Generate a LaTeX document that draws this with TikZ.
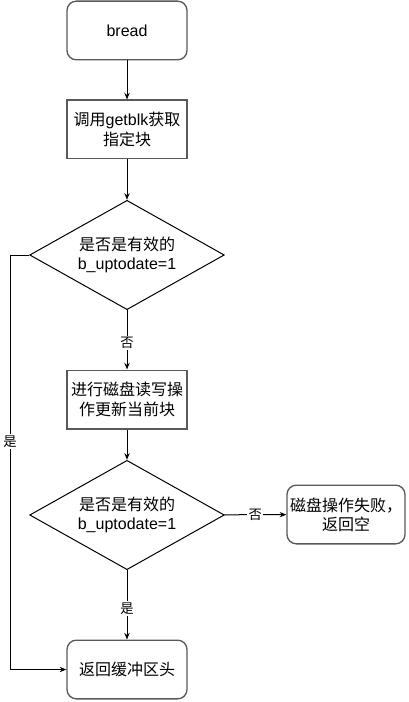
\documentclass[tikz,border=0pt]{standalone}
\usepackage{fontspec}
\setmainfont{Liberation Sans}
\newfontfamily\cjk{Noto Sans CJK SC}
\usetikzlibrary{shapes.geometric,arrows.meta}

\tikzset{every picture/.style={line width=0.75pt}}
\tikzset{
  procbox/.style={draw=black!65,line width=1pt,minimum width=90pt,minimum height=44pt,inner xsep=1pt,align=center,font=\fontsize{12}{14.5}\selectfont},
  endbox/.style={procbox,rounded corners=7pt},
  testbox/.style={draw,shape=diamond,aspect=1.8,minimum width=146pt,minimum height=82pt,inner sep=0pt,align=center,font=\fontsize{12}{14.5}\selectfont},
  flow/.style={-{Stealth[length=5pt,width=4pt]}},
  tag/.style={fill=white,inner sep=1pt,font=\cjk\fontsize{10}{12}\selectfont}
}

\begin{document}
\begin{tikzpicture}[x=0.75pt,y=0.75pt,yscale=-1,xscale=1]
	\useasboundingbox (0,0) rectangle (409,702);

	% Rounded start
	\node [endbox] (bread) at (127,30.5) {bread};
	% Process
	\node [procbox] (getblk) at (127,129.5) {{\cjk 调用}getblk{\cjk 获取}\\{\cjk 指定块}};
	% Decision
	\node [testbox] (valid1) at (127,255) {{\cjk 是否是有效的}\\b\_uptodate=1};
	% Process
	\node [procbox] (diskrw) at (127,399.5) {{\cjk 进行磁盘读写操}\\{\cjk 作更新当前块}};
	% Decision
	\node [testbox] (valid2) at (127,515) {{\cjk 是否是有效的}\\b\_uptodate=1};
	% Rounded fail
	\node [endbox,minimum width=88.5pt] (fail) at (346,514.5) {{\cjk 磁盘操作失败，}\\{\cjk 返回空}};
	% Rounded end
	\node [endbox] (ret) at (127,669.5) {{\cjk 返回缓冲区头}};

	\coordinate (bendtop) at (10,255);
	\coordinate (bendbot) at (10,669.5);

	% Connectors
	\draw [flow] (bread) -- (getblk);
	\draw [flow] (getblk) -- (valid1);
	\draw [flow] (valid1) -- node [tag,pos=0.55] {否} (diskrw);
	\draw [flow] (diskrw) -- (valid2);
	\draw [flow] (valid2) -- node [tag,pos=0.5] {否} (fail);
	\draw [flow] (valid2) -- node [tag,pos=0.55] {是} (ret);
	\draw [flow] (valid1.west) -- (bendtop) -- node [tag,pos=0.45] {是} (bendbot) -- (ret);

\end{tikzpicture}
\end{document}
